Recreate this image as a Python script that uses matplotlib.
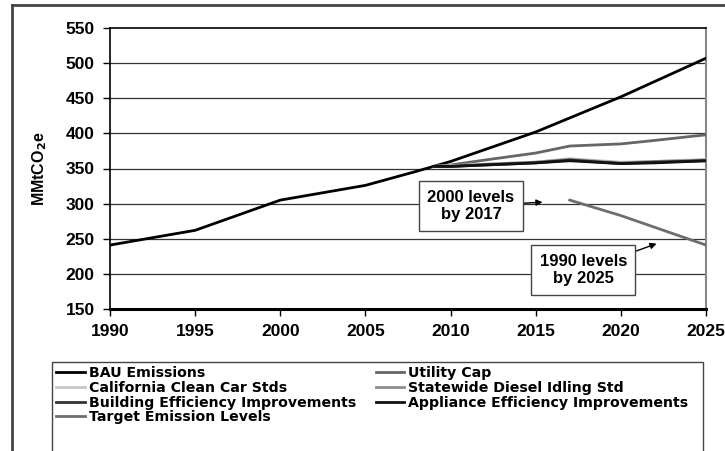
import matplotlib
matplotlib.use("Agg")
import matplotlib.pyplot as plt
from matplotlib.lines import Line2D
from matplotlib.patches import Rectangle

plt.rcParams['font.family'] = ['Liberation Sans', 'DejaVu Sans']

# Business-as-usual emissions (MMtCO2e)
bau_years = [1990, 1995, 2000, 2005, 2008, 2010, 2015, 2020, 2025]
bau_vals = [241, 262, 305, 326, 346, 360, 402, 452, 507]

# Policy scenarios
policy_years = [2009, 2010, 2012, 2015, 2017, 2020, 2022, 2025]
utility_cap = [353, 355, 362, 372, 382, 385, 390, 398]
clean_car = [353, 354, 356, 359, 364, 359, 360, 363]
diesel_idling = [353, 353, 356, 359, 363, 358, 360, 362]
building_eff = [353, 353, 355, 358, 362, 357, 359, 361]
appliance_eff = [353, 353, 355, 358, 361, 357, 358, 361]

# Target emission levels
target_years = [2017, 2020, 2025]
target_vals = [305, 283, 241]

x_ticks = [1990, 1995, 2000, 2005, 2010, 2015, 2020, 2025]
y_ticks = [150, 200, 250, 300, 350, 400, 450, 500, 550]

fig = plt.figure(figsize=(7.25, 4.51), dpi=100)
W, H = 725, 451
ax = fig.add_axes([110 / W, 1 - 309 / H, (706 - 110) / W, (309 - 28) / H])

ax.set_xlim(1990, 2025)
ax.set_ylim(150, 550)
ax.set_xticks(x_ticks)
ax.set_yticks(y_ticks)
ax.set_xticklabels([str(t) for t in x_ticks], fontsize=12.5, fontweight='bold')
ax.set_yticklabels([str(t) for t in y_ticks], fontsize=12.5, fontweight='bold')
ax.tick_params(axis='both', direction='out', length=5, width=1, color='black', pad=6)
ax.set_ylabel('MMtCO$_\\mathbf{2}$e', fontsize=11.5, fontweight='bold', labelpad=12)

for y in y_ticks[1:-1]:
    ax.axhline(y, color='#333333', lw=0.9, zorder=1)

ax.spines['top'].set_linewidth(1.2)
ax.spines['left'].set_linewidth(1.2)
ax.spines['bottom'].set_linewidth(2.2)
ax.spines['right'].set_color('#888888')
ax.spines['right'].set_linewidth(1.5)

series = {
    'BAU Emissions': (bau_years, bau_vals, '#000000'),
    'Utility Cap': (policy_years, utility_cap, '#666666'),
    'California Clean Car Stds': (policy_years, clean_car, '#c8c8c8'),
    'Statewide Diesel Idling Std': (policy_years, diesel_idling, '#8c8c8c'),
    'Building Efficiency Improvements': (policy_years, building_eff, '#333333'),
    'Appliance Efficiency Improvements': (policy_years, appliance_eff, '#111111'),
    'Target Emission Levels': (target_years, target_vals, '#6e6e6e'),
}
handles = {}
for label, (xs, ys, c) in series.items():
    ax.plot(xs, ys, color=c, lw=2.0, zorder=3, solid_joinstyle='round')
    handles[label] = Line2D([], [], color=c, lw=2.0, label=label)

box = dict(boxstyle='square,pad=0.5', fc='white', ec='#444444', lw=1)
arrow = dict(arrowstyle='-|>', color='black', lw=1, mutation_scale=9,
             shrinkA=0, shrinkB=0)
ax.annotate('2000 levels\nby 2017', xy=(2015.4, 302), xytext=(2011.2, 296.6),
            fontsize=12, fontweight='bold', ha='center', va='center',
            bbox=box, arrowprops=arrow, zorder=5, linespacing=1.2)
ax.annotate('1990 levels\nby 2025', xy=(2022.1, 243), xytext=(2017.8, 205.5),
            fontsize=12, fontweight='bold', ha='center', va='center',
            bbox=box, arrowprops=arrow, zorder=5, linespacing=1.2)

# Legend below the plot, filled row by row; its frame runs off the bottom edge
order = ['BAU Emissions', 'California Clean Car Stds',
         'Building Efficiency Improvements', 'Target Emission Levels',
         'Utility Cap', 'Statewide Diesel Idling Std',
         'Appliance Efficiency Improvements']
leg = fig.legend(handles=[handles[k] for k in order], loc='upper left',
                 bbox_to_anchor=(52 / W, 1 - 362 / H), ncol=2,
                 prop=dict(family='DejaVu Sans', weight='bold', size=10.2),
                 frameon=False, handlelength=2.0, handletextpad=0.3,
                 columnspacing=1.4, labelspacing=0.05, borderpad=0.3,
                 borderaxespad=0)
fig.add_artist(Rectangle((52 / W, -0.02), (703 - 52) / W, 1 - 362 / H + 0.02,
                         transform=fig.transFigure, fill=False,
                         ec='#444444', lw=1.0))

# Outer chart frame
fig.add_artist(Line2D([12 / W, 12 / W], [0, 1 - 5 / H], color='#444444', lw=2,
                      transform=fig.transFigure))
fig.add_artist(Line2D([12 / W, 1], [1 - 5 / H, 1 - 5 / H], color='#444444', lw=2,
                      transform=fig.transFigure))

fig.savefig('out.png', dpi=100)
